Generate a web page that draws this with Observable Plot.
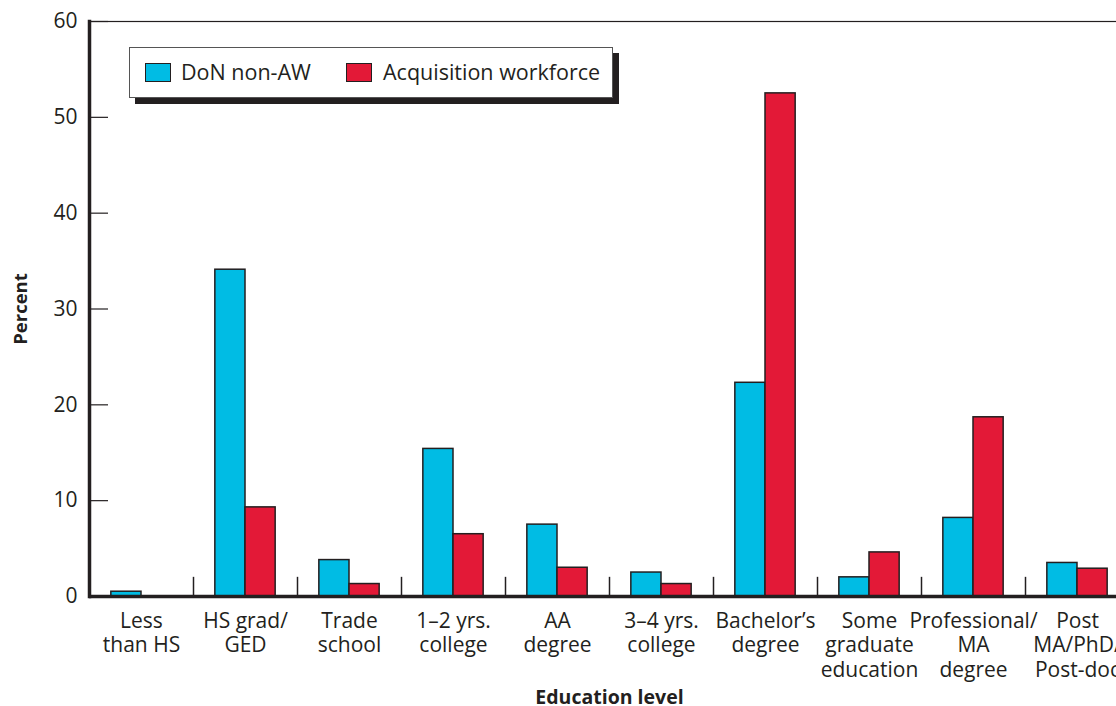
<!DOCTYPE html>
<html>
<head>
<meta charset="utf-8">
<script src="https://cdn.jsdelivr.net/npm/d3@7"></script>
<script src="https://cdn.jsdelivr.net/npm/@observablehq/plot@0.6"></script>
<style>
  html, body { margin: 0; padding: 0; background: #fff; overflow: hidden; }
  #wrap { position: relative; width: 1116px; height: 706px; overflow: hidden; }
  #chart { width: 1140px; }
  #chart svg { max-width: none !important; }
  #legend {
    position: absolute; left: 129px; top: 47px; width: 484px; height: 51px;
    box-sizing: border-box; border: 1px solid #555; background: #fff;
    box-shadow: 6px 6px 0 #231f20;
    font-family: "Open Sans", "Noto Sans", sans-serif; font-size: 21.5px; color: #231f20;
  }
  .sw { position: absolute; top: 15px; width: 26px; height: 19px; border: 1px solid #231f20; box-sizing: border-box; }
  .lab { position: absolute; top: 9px; line-height: 30px; white-space: nowrap; }
</style>
</head>
<body>
<div id="wrap">
  <div id="chart"></div>
  <div id="legend"></div>
</div>
<script>
const categories = ["Less\nthan HS", "HS grad/\nGED", "Trade\nschool", "1–2 yrs.\ncollege", "AA\ndegree", "3–4 yrs.\ncollege", "Bachelor’s\ndegree", "Some\ngraduate\neducation", "Professional/\nMA\ndegree", "Post\nMA/PhD/\nPost-doc"];
const seriesNames = ["DoN non-AW", "Acquisition workforce"];
const donNonAW = [0.5, 34.1, 3.8, 15.4, 7.5, 2.5, 22.3, 2.0, 8.2, 3.5];
const acqWorkforce = [0, 9.3, 1.3, 6.5, 3.0, 1.3, 52.5, 4.6, 18.7, 2.9];
const yTicks = [0, 10, 20, 30, 40, 50, 60];
const colors = ["#00bce4", "#e31937"];

const blueData = categories.map((c, i) => ({cat: c, value: donNonAW[i]}));
const redData = categories.map((c, i) => ({cat: c, value: acqWorkforce[i]}));

const marginLeft = 89, marginRight = 11, width = 1140;
const bw = (width - marginLeft - marginRight) / categories.length;
const outer = bw * 0.21, mid = bw / 2;
const ink = "#231f20";

const plot = Plot.plot({
  width, height: 706,
  marginLeft, marginRight, marginTop: 21, marginBottom: 110,
  style: {fontFamily: "'Open Sans', 'Noto Sans', sans-serif", fontSize: "21px", color: ink, background: "#fff", overflow: "visible", maxWidth: "none"},
  x: {domain: categories, padding: 0},
  y: {domain: [0, 60]},
  marks: [
    Plot.frame({stroke: ink, strokeWidth: 1.2}),
    Plot.barY(blueData, {x: "cat", y: "value", fill: colors[0], stroke: ink, strokeWidth: 1.5, insetLeft: outer, insetRight: mid}),
    Plot.barY(redData.filter(d => d.value > 0), {x: "cat", y: "value", fill: colors[1], stroke: ink, strokeWidth: 1.5, insetLeft: mid, insetRight: outer}),
    Plot.ruleX(categories.slice(1), {x: d => d, y1: 0, y2: 2, dx: -mid, stroke: ink, strokeWidth: 1.5}),
    Plot.ruleY([0], {stroke: ink, strokeWidth: 3.5}),
    Plot.frame({anchor: "left", stroke: ink, strokeWidth: 3.5}),
    Plot.axisY({ticks: yTicks, tickSize: -19, tickPadding: 31, label: null, stroke: ink, strokeWidth: 1.2, fontSize: 21}),
    Plot.axisX({tickSize: 0, tickPadding: 14, lineHeight: 1.16, label: null, fontSize: 21}),
    Plot.text(["Education level"], {frameAnchor: "bottom", dy: 107, fontWeight: "bold", fontSize: 19.5, fill: ink}),
    Plot.text(["Percent"], {frameAnchor: "left", dx: -68, rotate: -90, textAnchor: "middle", fontWeight: "bold", fontSize: 18.5, fill: ink})
  ]
});
document.getElementById("chart").appendChild(plot);

const legend = document.getElementById("legend");
const swLeft = [15, 216], labLeft = [51, 253];
seriesNames.forEach((name, i) => {
  const sw = document.createElement("span");
  sw.className = "sw";
  sw.style.left = swLeft[i] + "px";
  sw.style.background = colors[i];
  legend.appendChild(sw);
  const lab = document.createElement("span");
  lab.className = "lab";
  lab.style.left = labLeft[i] + "px";
  lab.textContent = name;
  legend.appendChild(lab);
});
</script>
</body>
</html>
